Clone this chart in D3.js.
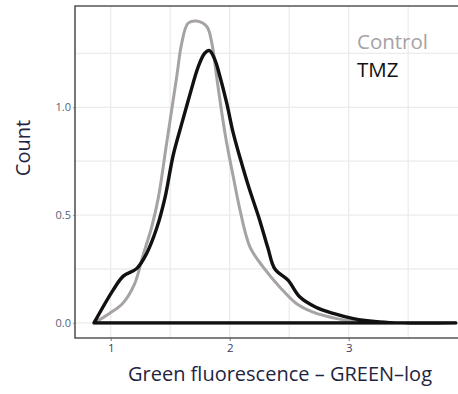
<!DOCTYPE html>
<html>
<head>
<meta charset="utf-8">
<script src="https://cdn.jsdelivr.net/npm/d3@7"></script>
<style>
  body { margin: 0; background: #fff; }
  svg { display: block; }
</style>
</head>
<body>
<svg id="chart" width="458" height="394"></svg>
<script>
// Density curves

let controlX = [0.86, 0.99, 1.1, 1.2, 1.27, 1.345, 1.40, 1.47, 1.555, 1.597, 1.65, 1.72, 1.807, 1.85, 1.89, 1.93, 1.975, 2.03, 2.087, 2.17, 2.28, 2.42, 2.56, 2.70, 2.90, 3.1, 3.3, 3.9]
let controlY = [0, 0.044, 0.09, 0.18, 0.31, 0.446, 0.58, 0.833, 1.143, 1.298, 1.39, 1.40, 1.375, 1.298, 1.143, 0.988, 0.833, 0.678, 0.523, 0.353, 0.26, 0.167, 0.09, 0.05, 0.02, 0.005, 0, 0]

let tmzX = [0.86, 1.02, 1.106, 1.22, 1.30, 1.387, 1.456, 1.526, 1.60, 1.666, 1.736, 1.79, 1.83, 1.876, 1.918, 1.975, 2.03, 2.09, 2.16, 2.25, 2.32, 2.38, 2.49, 2.59, 2.72, 2.87, 3.04, 3.26, 3.45, 3.9]
let tmzY = [0, 0.152, 0.217, 0.253, 0.32, 0.44, 0.58, 0.78, 0.93, 1.06, 1.189, 1.251, 1.263, 1.22, 1.143, 1.019, 0.88, 0.76, 0.63, 0.48, 0.35, 0.25, 0.198, 0.12, 0.074, 0.044, 0.02, 0.005, 0, 0]

let seriesNames = ['Control', 'TMZ']
let seriesColors = ['#a7a2a4', '#111111']

let xTicks = [1, 2, 3]
let xGrid = [1, 1.5, 2, 2.5, 3, 3.5]
let yTicks = [0, 0.5, 1.0]
let yGrid = [0, 0.25, 0.5, 0.75, 1.0, 1.25]

let svg = d3.select('#chart')

let x = d3.scaleLinear()
    .domain([0.7, 3.95])
    .range([75, 461.75])

let y = d3.scaleLinear()
    .domain([-0.07, 1.47])
    .range([338, 6])

// Grid
let grid = svg.append('g')
    .attr('class', 'grid')

grid.selectAll('.gx')
  .data(xGrid)
  .enter().append('line')
  .attr('x1', d => x(d))
  .attr('x2', d => x(d))
  .attr('y1', y.range()[0])
  .attr('y2', y.range()[1])
  .style('stroke', '#ececec')
  .style('stroke-width', 1.3)

grid.selectAll('.gy')
  .data(yGrid)
  .enter().append('line')
  .attr('x1', x.range()[0])
  .attr('x2', x.range()[1])
  .attr('y1', d => y(d))
  .attr('y2', d => y(d))
  .style('stroke', '#ececec')
  .style('stroke-width', 1.3)

// Axes
let xAxis = d3.axisBottom(x)
    .tickValues(xTicks)
    .tickFormat(d3.format('d'))
    .tickSize(3)
    .tickPadding(3)

let yAxis = d3.axisLeft(y)
    .tickValues(yTicks)
    .tickFormat(d3.format('.1f'))
    .tickSize(2)
    .tickPadding(2)

let gx = svg.append('g')
    .attr('transform', 'translate(0,' + y.range()[0] + ')')
    .call(xAxis)

let gy = svg.append('g')
    .attr('transform', 'translate(' + x.range()[0] + ',0)')
    .call(yAxis)

gx.select('.domain').remove()
gy.select('.domain').remove()

gx.selectAll('.tick line').style('stroke', '#777')
gy.selectAll('.tick line').style('stroke', '#999')

gx.selectAll('.tick text')
  .style('font-family', '"Open Sans", sans-serif')
  .style('font-size', '11.5px')
  .style('fill', '#3c3b5c')

gy.selectAll('.tick text')
  .style('font-family', '"Open Sans", sans-serif')
  .style('font-size', '11px')
  .style('fill', '#56617a')

// Frame: top, left, bottom
svg.append('path')
  .attr('d', 'M' + x.range()[1] + ',' + y.range()[1] +
    'H' + x.range()[0] + 'V' + y.range()[0] + 'H' + x.range()[1])
  .style('fill', 'none')
  .style('stroke', '#555')
  .style('stroke-width', 1.6)

// Curves, closed back to the start along y = 0
let line = d3.line()
    .x(d => x(d[0]))
    .y(d => y(d[1]))
    .curve(d3.curveCatmullRom.alpha(0.5))

let curves = [
  d3.zip(controlX, controlY),
  d3.zip(tmzX, tmzY)
]

let widths = [3, 3.4]

for (let i = 0; i < curves.length; i++) {
  svg.append('path')
    .attr('d', line(curves[i]) + 'Z')
    .style('fill', 'none')
    .style('stroke', seriesColors[i])
    .style('stroke-width', widths[i])
    .style('stroke-linejoin', 'round')
}

// Legend
let legend = svg.append('g')
    .attr('class', 'legend')

legend.selectAll('text')
  .data(seriesNames)
  .enter().append('text')
  .attr('x', 357)
  .attr('y', (d, i) => 49 + i * 28)
  .text(d => d)
  .style('font-family', '"Open Sans", sans-serif')
  .style('font-size', '20.5px')
  .style('fill', (d, i) => seriesColors[i])

// Titles
svg.append('text')
  .attr('x', 280)
  .attr('y', 381)
  .attr('text-anchor', 'middle')
  .text('Green fluorescence \u2013 GREEN\u2013log')
  .style('font-family', '"Open Sans", sans-serif')
  .style('font-size', '20px')
  .style('fill', '#1f2540')

svg.append('text')
  .attr('transform', 'translate(30,148) rotate(-90)')
  .attr('text-anchor', 'middle')
  .text('Count')
  .style('font-family', '"Open Sans", sans-serif')
  .style('font-size', '20px')
  .style('fill', '#1f2540')
</script>
</body>
</html>
